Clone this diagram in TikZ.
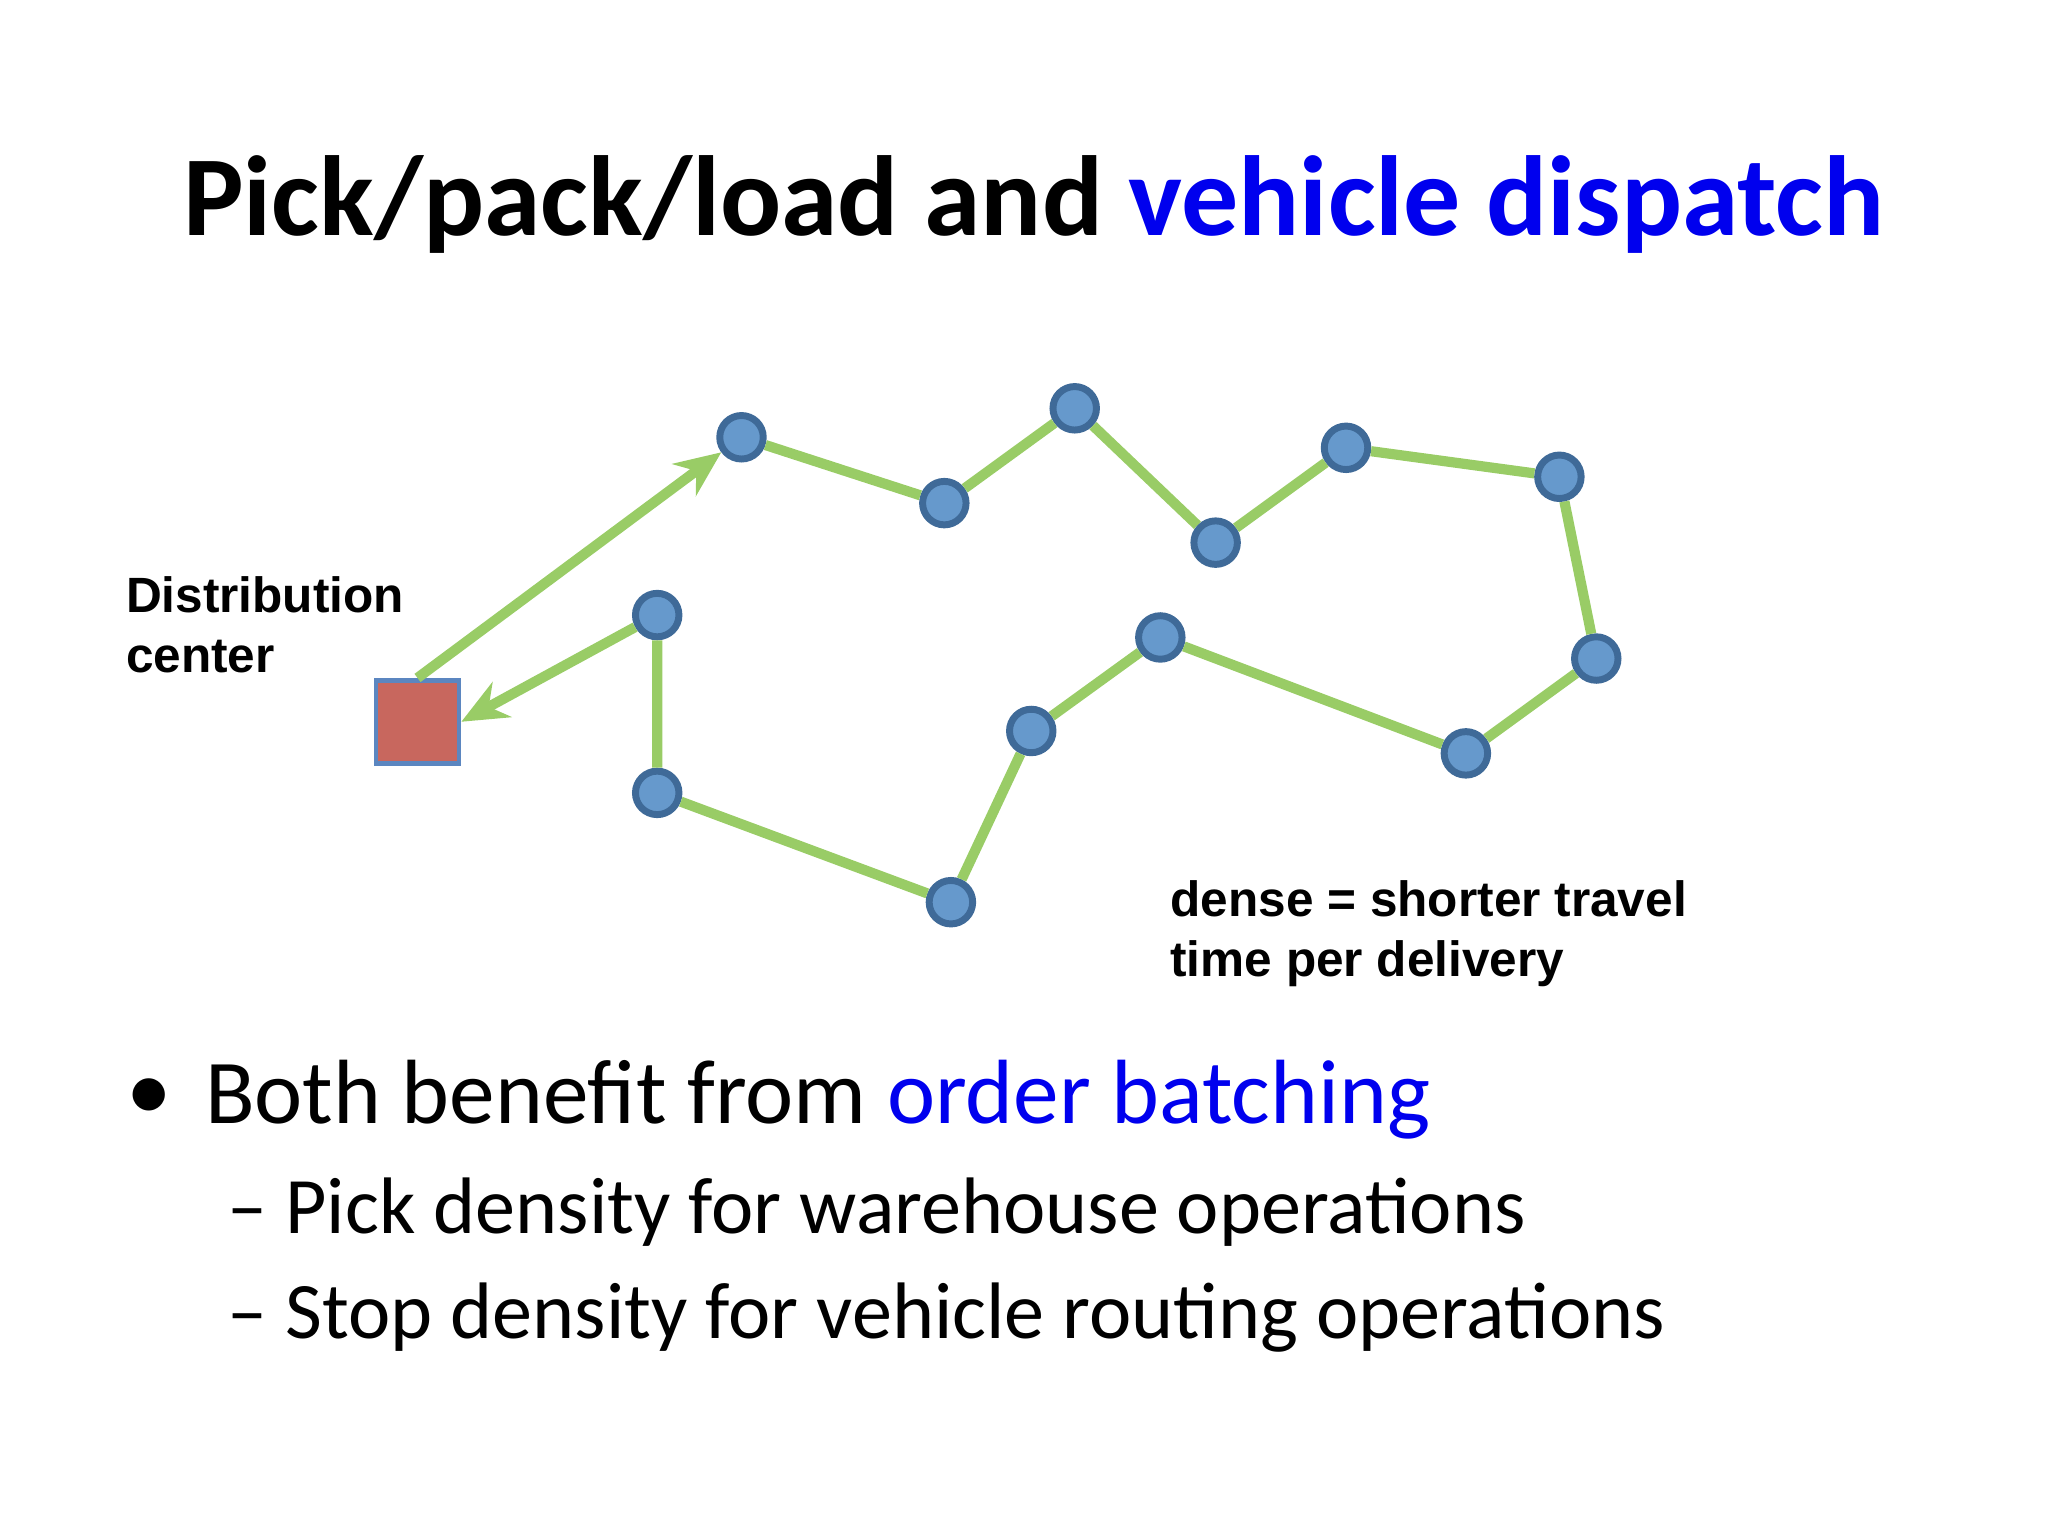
\documentclass[tikz,border=0pt]{standalone}
\usepackage{fontspec}
\setmainfont{Carlito}
\newfontfamily\arialf{Liberation Sans}
\usetikzlibrary{arrows.meta}
\definecolor{stopfill}{HTML}{6699CC}
\definecolor{stopline}{HTML}{3F6A98}
\definecolor{routeg}{HTML}{99CC66}
\definecolor{dcred}{HTML}{C8675E}
\definecolor{dcline}{HTML}{5B86C0}
\definecolor{tblue}{HTML}{0000EE}
\tikzset{
 stop/.style={circle,fill=stopfill,draw=stopline,line width=1.5pt,minimum size=0.33cm,inner sep=0pt},
 route/.style={draw=routeg,line width=2.2pt},
 lbl/.style={font=\arialf\bfseries\fontsize{10.7pt}{13pt}\selectfont,align=left,anchor=north west,inner sep=0pt}
}
\begin{document}
\begin{tikzpicture}[x=0.01cm,y=-0.01cm]
\useasboundingbox (0,0) rectangle (1555,1166);
\node[font=\bfseries\fontsize{24.6pt}{28pt}\selectfont] (title) at (785,155) {Pick/pack/load and \textcolor{tblue}{vehicle dispatch}};
\node[draw=dcline,fill=dcred,minimum size=0.63cm,inner sep=0pt,line width=1pt] (dc) at (317,548) {};
\node[lbl] (dclbl) at (95,437) {Distribution\\center};
\node[lbl] (dense) at (888,668) {dense = shorter travel\\time per delivery};
\foreach \n/\x/\y in {A/563/332,B/717/382,C/816/310,D/923/412,E/1022/340,F/1184/362,G/1212/500,H/1113/572,I/881/484,J/783/555,K/722/685,L/499/602,M/499/467}
  \node[stop] (\n) at (\x,\y) {};
\draw[route] (A)--(B)--(C)--(D)--(E)--(F)--(G)--(H)--(I)--(J)--(K)--(L)--(M);
\draw[route,-{Stealth[length=0.35cm,width=0.3cm]}] (dc.north) -- (A);
\draw[route,-{Stealth[length=0.35cm,width=0.3cm]}] (M) -- (dc.east);
\node[anchor=west,font=\fontsize{19.7pt}{23pt}\selectfont,inner sep=0pt] (bul) at (95,835) {•};
\node[anchor=west,font=\fontsize{19.7pt}{23pt}\selectfont,inner sep=0pt] (b1) at (155,835) {Both benefit from \textcolor{tblue}{order batching}};
\node[anchor=west,font=\fontsize{17.3pt}{21pt}\selectfont,inner sep=0pt] (b2) at (172,920) {– Pick density for warehouse operations};
\node[anchor=west,font=\fontsize{17.3pt}{21pt}\selectfont,inner sep=0pt] (b3) at (172,1000) {– Stop density for vehicle routing operations};
\end{tikzpicture}
\end{document}
